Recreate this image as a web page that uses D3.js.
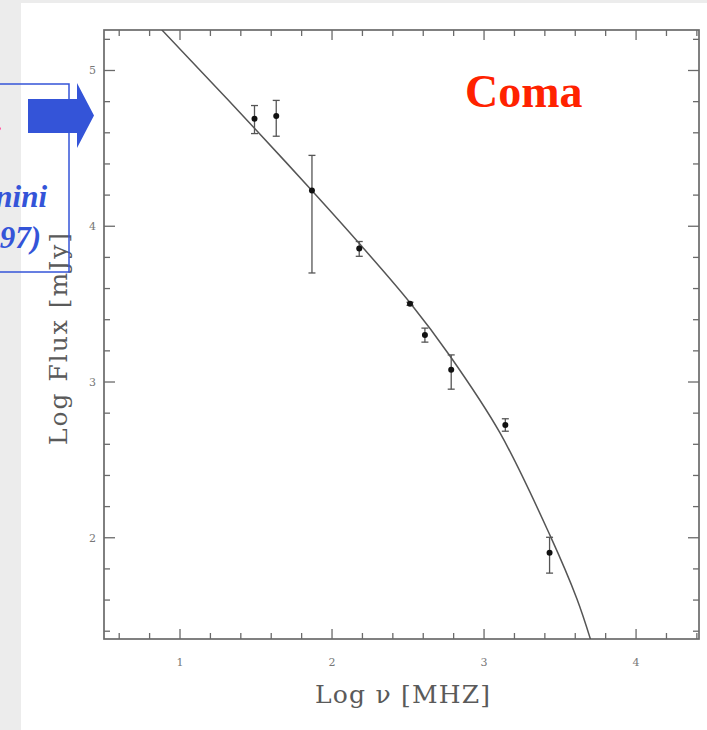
<!DOCTYPE html>
<html>
<head>
<meta charset="utf-8">
<script src="https://cdn.jsdelivr.net/npm/d3@7"></script>
<style>
  html, body { margin: 0; padding: 0; background: #ffffff; }
  svg { display: block; }
</style>
</head>
<body>
<script>
// Radio spectrum of the Coma cluster halo: log frequency vs log flux
const logNu      = [1.490, 1.633, 1.868, 2.179, 2.513, 2.611, 2.784, 3.140, 3.431];
const logFlux    = [4.690, 4.708, 4.230, 3.857, 3.502, 3.301, 3.079, 2.724, 1.903];
const errUp      = [0.085, 0.100, 0.225, 0.045, 0.010, 0.045, 0.095, 0.040, 0.100];
const errDown    = [0.095, 0.130, 0.530, 0.050, 0.010, 0.045, 0.125, 0.040, 0.130];

// Fitted spectrum, sampled along the model curve
const fitNu      = [0.880, 1.200, 1.493, 1.873, 2.184, 2.513, 2.776, 3.105, 3.434, 3.610, 3.700];
const fitFlux    = [5.261, 4.931, 4.626, 4.223, 3.884, 3.509, 3.167, 2.673, 2.015, 1.610, 1.349];

const xTickLabels = [1, 2, 3, 4];
const yTickLabels = [2, 3, 4, 5];

const W = 707, H = 730;
const svg = d3.select("body").append("svg").attr("width", W).attr("height", H);

// page background with the light grey margin
svg.append("rect").attr("width", W).attr("height", H).attr("fill", "#ececec");
svg.append("rect").attr("x", 21).attr("y", 3).attr("width", W - 21).attr("height", H - 3).attr("fill", "#ffffff");

const x = d3.scaleLinear().domain([0.5, 4.414]).range([104, 699]);
const y = d3.scaleLinear().domain([1.35, 5.26]).range([639, 30]);

const [x0, x1] = x.range();
const [y0, y1] = y.range();

const axisColor = "#6a6a6a";
const g = svg.append("g");

// frame
g.append("rect")
  .attr("x", x0).attr("y", y1)
  .attr("width", x1 - x0).attr("height", y0 - y1)
  .attr("fill", "none").attr("stroke", axisColor).attr("stroke-width", 1.7);

// ticks on all four sides, pointing inward
const xMinor = d3.range(0.6, 4.41, 0.2);
const yMinor = d3.range(1.4, 5.25, 0.2);
const isMajor = v => Math.abs(v - Math.round(v)) < 1e-6;

xMinor.forEach(v => {
  const len = isMajor(v) ? 10 : 6;
  g.append("line").attr("x1", x(v)).attr("x2", x(v)).attr("y1", y0).attr("y2", y0 - len)
    .attr("stroke", axisColor).attr("stroke-width", 1.3);
  g.append("line").attr("x1", x(v)).attr("x2", x(v)).attr("y1", y1).attr("y2", y1 + len)
    .attr("stroke", axisColor).attr("stroke-width", 1.3);
});
yMinor.forEach(v => {
  const len = isMajor(v) ? 11 : 6;
  g.append("line").attr("y1", y(v)).attr("y2", y(v)).attr("x1", x0).attr("x2", x0 + len)
    .attr("stroke", axisColor).attr("stroke-width", 1.3);
  g.append("line").attr("y1", y(v)).attr("y2", y(v)).attr("x1", x1).attr("x2", x1 - len)
    .attr("stroke", axisColor).attr("stroke-width", 1.3);
});

// tick labels
g.selectAll("text.xl").data(xTickLabels).enter().append("text")
  .attr("x", d => x(d)).attr("y", 666)
  .attr("text-anchor", "middle")
  .attr("font-family", "DejaVu Serif").attr("font-size", 11).attr("fill", "#777")
  .text(d => d);
g.selectAll("text.yl").data(yTickLabels).enter().append("text")
  .attr("x", 96).attr("y", d => y(d) + 4)
  .attr("text-anchor", "end")
  .attr("font-family", "DejaVu Serif").attr("font-size", 11).attr("fill", "#777")
  .text(d => d);

// axis titles
svg.append("text")
  .attr("x", 315).attr("y", 703)
  .attr("textLength", 175).attr("lengthAdjust", "spacing")
  .attr("font-family", "DejaVu Serif").attr("font-size", 25).attr("fill", "#5a5a5a")
  .text("Log \u03bd [MHZ]");
svg.append("text")
  .attr("transform", "translate(67,445) rotate(-90)")
  .attr("textLength", 212).attr("lengthAdjust", "spacing")
  .attr("font-family", "DejaVu Serif").attr("font-size", 25).attr("fill", "#5a5a5a")
  .text("Log Flux [mJy]");

// fitted curve, clipped to the frame
svg.append("clipPath").attr("id", "plotclip").append("rect")
  .attr("x", x0).attr("y", y1).attr("width", x1 - x0).attr("height", y0 - y1);
const fitPts = fitNu.map((v, i) => [v, fitFlux[i]]);
svg.append("path")
  .attr("clip-path", "url(#plotclip)")
  .attr("d", d3.line().x(d => x(d[0])).y(d => y(d[1])).curve(d3.curveCatmullRom.alpha(0.5))(fitPts))
  .attr("fill", "none").attr("stroke", "#555").attr("stroke-width", 1.5);

// data points with error bars
const pts = logNu.map((v, i) => ({ nu: v, f: logFlux[i], up: errUp[i], dn: errDown[i] }));
const pg = svg.append("g");
pts.forEach(p => {
  const cx = x(p.nu), top = y(p.f + p.up), bot = y(p.f - p.dn);
  pg.append("line").attr("x1", cx).attr("x2", cx).attr("y1", top).attr("y2", bot)
    .attr("stroke", "#555").attr("stroke-width", 1.3);
  [top, bot].forEach(yy => pg.append("line")
    .attr("x1", cx - 3.5).attr("x2", cx + 3.5).attr("y1", yy).attr("y2", yy)
    .attr("stroke", "#555").attr("stroke-width", 1.3));
  pg.append("circle").attr("cx", cx).attr("cy", y(p.f)).attr("r", 3).attr("fill", "#111");
});

// cluster name
svg.append("text")
  .attr("x", 465).attr("y", 107)
  .attr("font-family", "Liberation Serif").attr("font-weight", "bold")
  .attr("font-size", 46).attr("fill", "#ff2200")
  .text("Coma");

// reference box and arrow at the left edge
const blue = "#3454d8";
svg.append("rect")
  .attr("x", -10).attr("y", 84).attr("width", 79).attr("height", 188)
  .attr("fill", "none").attr("stroke", blue).attr("stroke-width", 1.5);
svg.append("text")
  .attr("x", 2).attr("y", 131).attr("text-anchor", "end")
  .attr("font-family", "Liberation Serif").attr("font-weight", "bold")
  .attr("font-size", 30).attr("fill", "#ff2200")
  .text("Fit.");
svg.append("text")
  .attr("x", 47).attr("y", 207).attr("text-anchor", "end")
  .attr("font-family", "Liberation Serif").attr("font-weight", "bold").attr("font-style", "italic")
  .attr("font-size", 31).attr("fill", blue)
  .text("Giovannini");
svg.append("text")
  .attr("x", 41).attr("y", 248).attr("text-anchor", "end")
  .attr("font-family", "Liberation Serif").attr("font-weight", "bold").attr("font-style", "italic")
  .attr("font-size", 31).attr("fill", blue)
  .text("(1997)");
svg.append("path")
  .attr("d", "M28,99 L77,99 L77,83 L94,115.5 L77,148 L77,133 L28,133 Z")
  .attr("fill", blue);
</script>
</body>
</html>
